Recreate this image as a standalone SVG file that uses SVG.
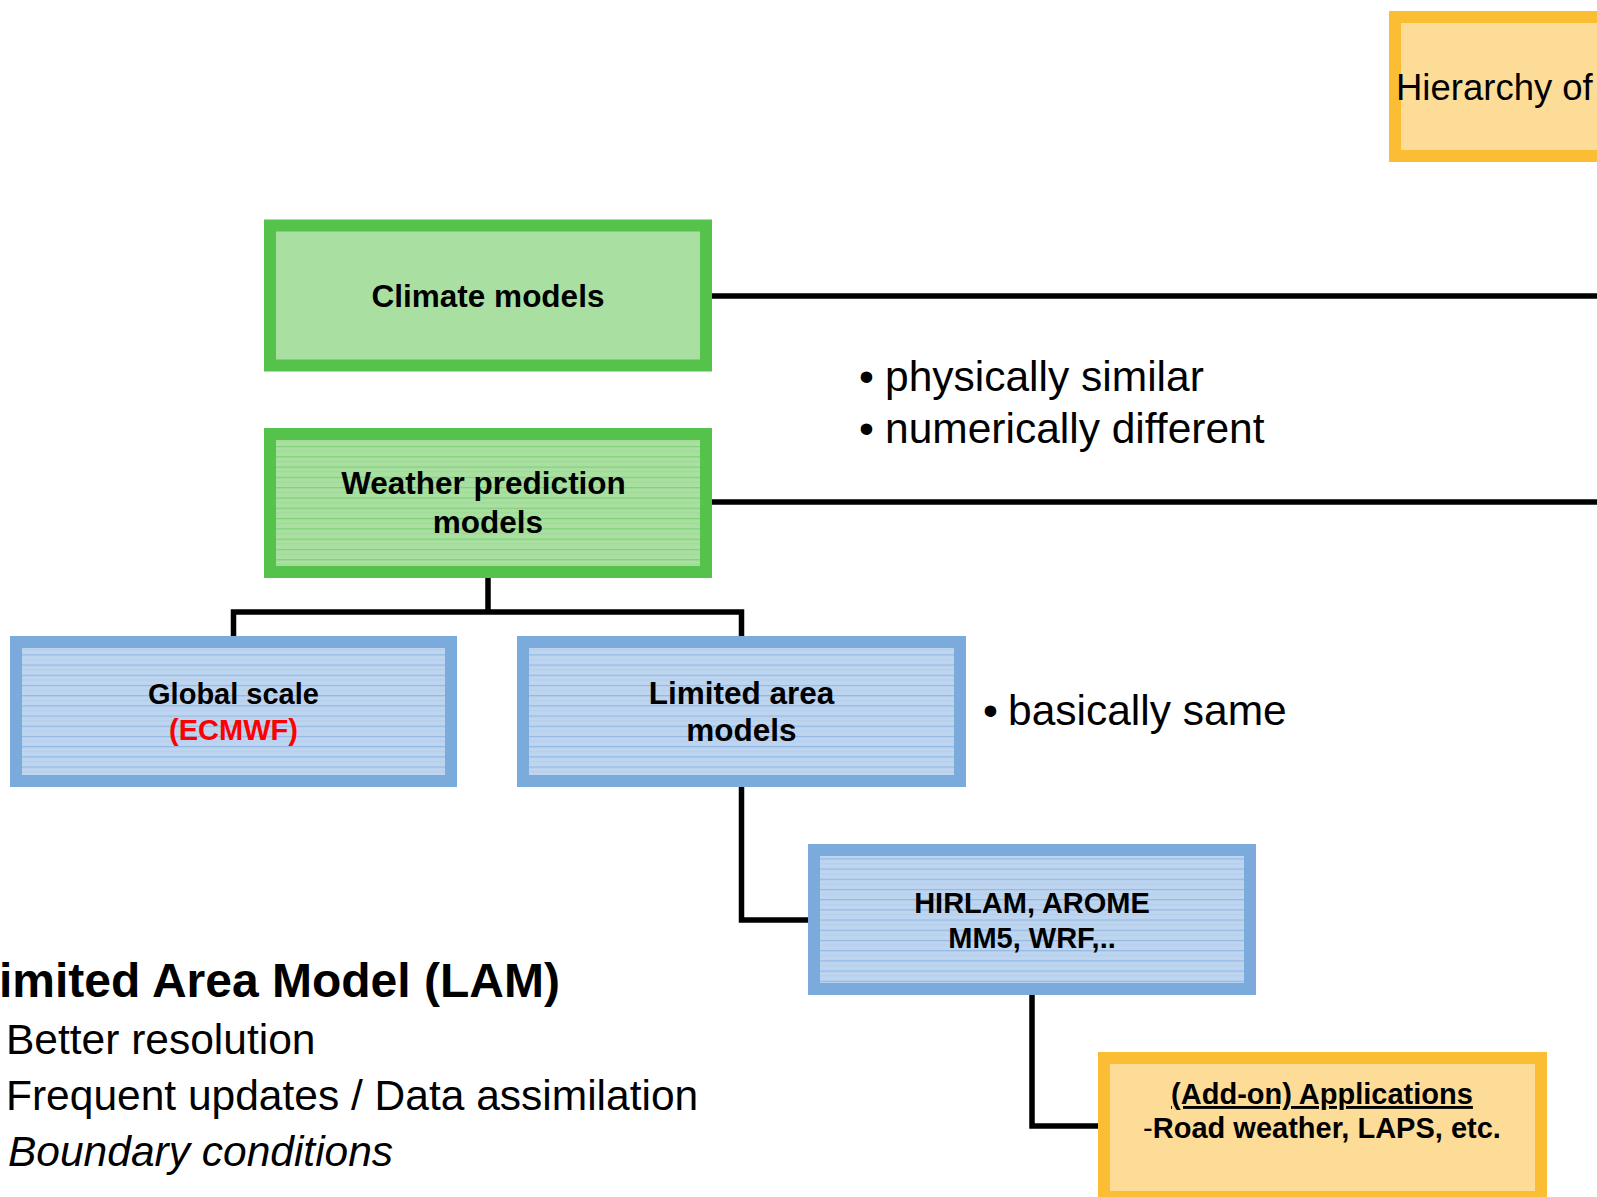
<svg xmlns="http://www.w3.org/2000/svg" width="1597" height="1197" viewBox="0 0 1597 1197">
<defs>
<pattern id="hatchBlue" patternUnits="userSpaceOnUse" width="20" height="10.2" y="1.5">
<rect width="20" height="10.2" fill="#bed5ef"/>
<rect y="0" width="20" height="1.2" fill="#92b8e4"/>
<rect y="5" width="20" height="0.8" fill="#b0cbeb"/>
</pattern>
<pattern id="hatchGreen" patternUnits="userSpaceOnUse" width="20" height="10.3" y="3">
<rect width="20" height="10.3" fill="#a9e0a1"/>
<rect y="0" width="20" height="1.2" fill="#80d078"/>
<rect y="5" width="20" height="0.8" fill="#98d890"/>
</pattern>
<style>
.green{stroke:#55c24b;stroke-width:12}
.blue{stroke:#7babdc;stroke-width:12}
.orange{stroke:#fbbd33;stroke-width:12;fill:#fddc98}
.conn{stroke:#000;stroke-width:5.5;fill:none;stroke-linejoin:miter;stroke-linecap:butt}
.bt{font-family:"Liberation Sans",Arial,sans-serif;font-weight:bold;fill:#000;text-anchor:middle}
.rt{font-family:"Liberation Sans",Arial,sans-serif;fill:#000}
</style>
</defs>
<g id="connectors">
<path class="conn" d="M712,296 H1597"/>
<path class="conn" d="M712,502 H1597"/>
<path class="conn" d="M488,578 V612 M233.5,636 V612 H741.5 V636"/>
<path class="conn" d="M741.5,787 V920 H808"/>
<path class="conn" d="M1032,995 V1126 H1098"/>
</g>
<g id="hierarchy">
<rect class="orange" x="1395" y="17" width="260" height="139"/>
<text class="rt" x="1396" y="100" font-size="36.5">Hierarchy of</text>
</g>
<g id="climate">
<rect class="green" x="270" y="225.5" width="436" height="140" fill="#a9e0a1"/>
<text class="bt" x="488" y="307" font-size="31.5">Climate models</text>
</g>
<g id="weather">
<rect class="green" x="270" y="434" width="436" height="138" fill="url(#hatchGreen)"/>
<text class="bt" font-size="31.5"><tspan x="483.5" y="494">Weather prediction</tspan><tspan x="488" y="533">models</tspan></text>
</g>
<g id="global">
<rect class="blue" x="16" y="642" width="435" height="139" fill="url(#hatchBlue)"/>
<text class="bt" font-size="29"><tspan x="233.5" y="704">Global scale</tspan><tspan x="233.5" y="740" fill="#ff0000">(ECMWF)</tspan></text>
</g>
<g id="limited">
<rect class="blue" x="523" y="642" width="437" height="139" fill="url(#hatchBlue)"/>
<text class="bt" font-size="31.5"><tspan x="741.5" y="704">Limited area</tspan><tspan x="741.5" y="741">models</tspan></text>
</g>
<g id="hirlam">
<rect class="blue" x="814" y="850" width="436" height="139" fill="url(#hatchBlue)"/>
<text class="bt" font-size="29"><tspan x="1032" y="913">HIRLAM, AROME</tspan><tspan x="1032" y="948">MM5, WRF,..</tspan></text>
</g>
<g id="applications">
<rect class="orange" x="1104" y="1058" width="437" height="139"/>
<text class="bt" font-size="29"><tspan x="1322" y="1104" text-decoration="underline">(Add-on) Applications</tspan><tspan x="1322" y="1138"><tspan font-weight="normal">-</tspan>Road weather, LAPS, etc.</tspan></text>
</g>
<g id="notes">
<text class="rt" font-size="42.5" x="859" y="391">•</text>
<text class="rt" font-size="42.5" x="885" y="391">physically similar</text>
<text class="rt" font-size="42.5" x="859" y="443">•</text>
<text class="rt" font-size="42.5" x="885" y="443">numerically different</text>
<text class="rt" font-size="42.5" x="983" y="725">•</text>
<text class="rt" font-size="42.5" x="1008" y="725">basically same</text>
<text class="rt" font-size="48" font-weight="bold" x="-1" y="997">imited Area Model (LAM)</text>
<text class="rt" font-size="42.5" x="6" y="1054">Better resolution</text>
<text class="rt" font-size="42.5" x="6" y="1110">Frequent updates / Data assimilation</text>
<text class="rt" font-size="42.5" font-style="italic" x="8" y="1166">Boundary conditions</text>
</g>
</svg>
